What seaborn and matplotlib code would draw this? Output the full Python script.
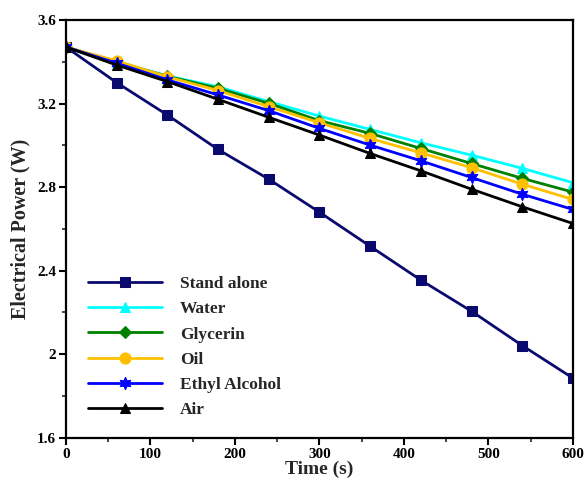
import numpy as np
import pandas as pd
import seaborn as sns
import matplotlib.pyplot as plt
from matplotlib.ticker import MultipleLocator

# Datos (marcadores cada 60 s)
tiempo = [0, 60, 120, 180, 240, 300, 360, 420, 480, 540, 600]
stand_alone = [3.47, 3.30, 3.145, 2.98, 2.838, 2.68, 2.517, 2.355, 2.206, 2.042, 1.886]
water = [3.47, 3.40, 3.332, 3.28, 3.209, 3.14, 3.076, 3.012, 2.953, 2.89, 2.821]
glycerin = [3.47, 3.40, 3.33, 3.273, 3.201, 3.118, 3.057, 2.985, 2.913, 2.842, 2.776]
oil = [3.47, 3.404, 3.328, 3.262, 3.185, 3.108, 3.033, 2.964, 2.893, 2.814, 2.741]
ethyl = [3.47, 3.393, 3.313, 3.241, 3.166, 3.081, 3.001, 2.926, 2.846, 2.766, 2.693]
air = [3.47, 3.384, 3.305, 3.22, 3.134, 3.049, 2.961, 2.878, 2.79, 2.706, 2.626]

series = {
    "Stand alone": stand_alone,
    "Water": water,
    "Glycerin": glycerin,
    "Oil": oil,
    "Ethyl Alcohol": ethyl,
    "Air": air,
}
colores = {
    "Stand alone": "#0a0a6e",
    "Water": "#00ffff",
    "Glycerin": "#008000",
    "Oil": "#ffc000",
    "Ethyl Alcohol": "#0000ff",
    "Air": "#000000",
}
marcadores = {
    "Stand alone": "s",
    "Water": "^",
    "Glycerin": "D",
    "Oil": "o",
    "Ethyl Alcohol": (6, 1, 0),
    "Air": "^",
}
tamanos = {"Stand alone": 7.5, "Water": 7.5, "Glycerin": 6, "Oil": 8,
           "Ethyl Alcohol": 9, "Air": 7.5}

sns.set_style("ticks")
plt.rcParams["font.family"] = ["Liberation Serif", "DejaVu Serif"]
plt.rcParams["font.weight"] = "bold"

fig = plt.figure(figsize=(5.84, 4.86), dpi=100)
ax = fig.add_axes([0.113, 0.099, 0.868, 0.860])

for nombre, valores in series.items():
    df = pd.DataFrame({"t": tiempo, "p": valores})
    sns.lineplot(data=df, x="t", y="p", ax=ax, color=colores[nombre],
                 marker=marcadores[nombre], markersize=tamanos[nombre],
                 markeredgecolor=colores[nombre], linewidth=2.0, label=nombre)

ax.set_xlim(0, 600)
ax.set_ylim(1.6, 3.6)
ax.xaxis.set_major_locator(MultipleLocator(100))
ax.xaxis.set_minor_locator(MultipleLocator(50))
ax.yaxis.set_minor_locator(MultipleLocator(0.2))
ax.set_yticks([1.6, 2.0, 2.4, 2.8, 3.2, 3.6])
ax.set_yticklabels(["1.6", "2", "2.4", "2.8", "3.2", "3.6"])
ax.tick_params(axis="both", which="major", direction="out", length=5, width=1.5,
               labelsize=11, pad=2, colors="black")
ax.tick_params(axis="both", which="minor", direction="out", length=3, width=1.2)
for lab in ax.get_xticklabels() + ax.get_yticklabels():
    lab.set_fontweight("bold")
for sp in ax.spines.values():
    sp.set_linewidth(1.6)
    sp.set_color("black")

ax.set_xlabel("Time (s)", fontsize=14, fontweight="bold", labelpad=0)
ax.set_ylabel("Electrical Power (W)", fontsize=14.5, fontweight="bold", labelpad=5)

ax.legend(loc="lower left", bbox_to_anchor=(0.012, 0.01), frameon=False,
          handlelength=4.3, labelspacing=0.52, handletextpad=1.0,
          prop={"size": 12.5, "weight": "bold"})

plt.savefig("out.png", dpi=100)
plt.close()
